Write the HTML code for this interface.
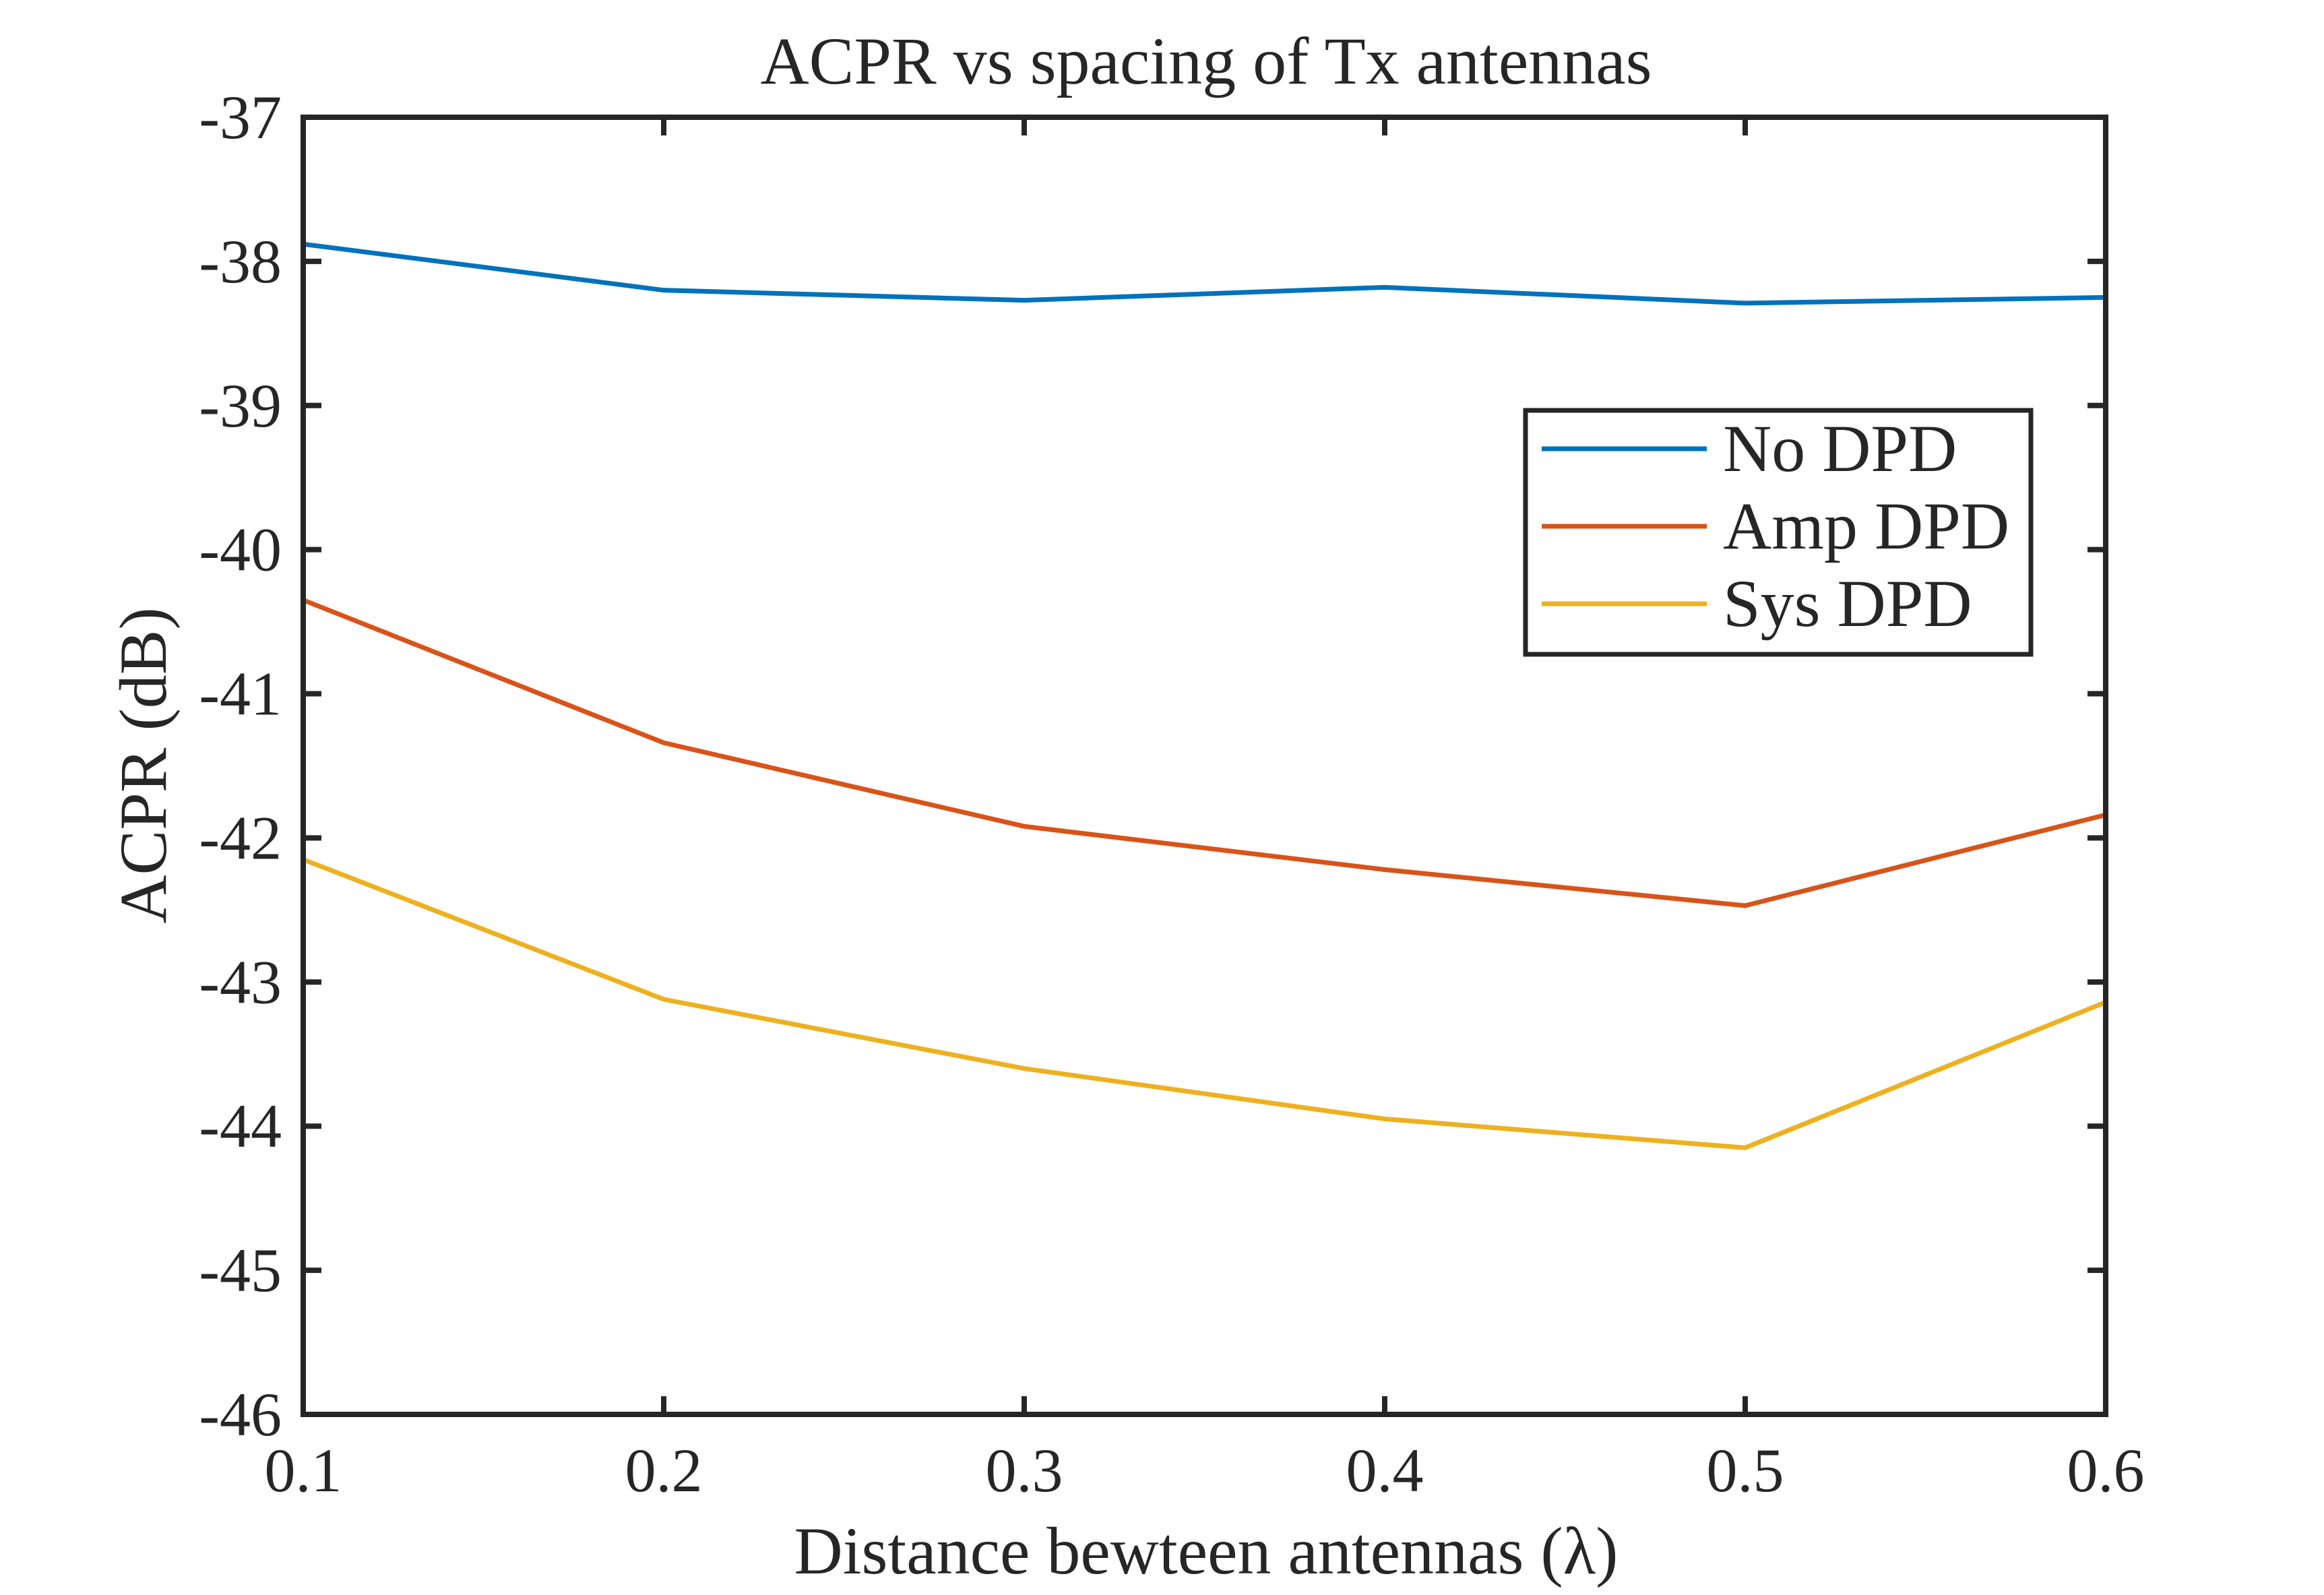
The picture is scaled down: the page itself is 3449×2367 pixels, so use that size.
<!DOCTYPE html>
<html><head><meta charset="utf-8"><style>
html,body{margin:0;padding:0;background:#fff}
svg text{font-family:"Liberation Serif","DejaVu Serif",serif;fill:#262626}
</style></head><body>
<svg id="chart" width="3449" height="2362" viewBox="0 0 3449 2362" xmlns="http://www.w3.org/2000/svg">
<rect width="3449" height="2362" fill="#fff"/>
<g id="plot"></g>
</svg>
<script>
const xValues=[0.1,0.2,0.3,0.4,0.5,0.6];
const noDPD=[-37.88,-38.2,-38.27,-38.18,-38.29,-38.25];
const ampDPD=[-40.35,-41.34,-41.92,-42.22,-42.47,-41.84];
const sysDPD=[-42.15,-43.12,-43.6,-43.95,-44.15,-43.14];
const xTicks=[0.1,0.2,0.3,0.4,0.5,0.6];
const xTickLabels=["0.1","0.2","0.3","0.4","0.5","0.6"];
const yTicks=[-46,-45,-44,-43,-42,-41,-40,-39,-38,-37];
const yTickLabels=["-46","-45","-44","-43","-42","-41","-40","-39","-38","-37"];
const seriesNames=["No DPD","Amp DPD","Sys DPD"];

const L=450,R=3125,T=174,B=2099;
const xMin=0.1,xMax=0.6,yMin=-46,yMax=-37;
const sx=v=>L+(v-xMin)/(xMax-xMin)*(R-L);
const sy=v=>B-(v-yMin)/(yMax-yMin)*(B-T);
const NS="http://www.w3.org/2000/svg";
const g=document.getElementById('plot');
function mk(tag,attrs,parent){const e=document.createElementNS(NS,tag);for(const k in attrs)e.setAttribute(k,attrs[k]);(parent||g).appendChild(e);return e;}

const colors=["#0072BD","#D95319","#EDB120"];
const data=[noDPD,ampDPD,sysDPD];
data.forEach((s,i)=>{
  const p=mk('polyline',{points:s.map((v,j)=>sx(xValues[j])+','+sy(v)).join(' '),fill:'none',stroke:colors[i],'stroke-width':7,'stroke-linejoin':'round'});
  
  
});

const box=mk('rect',{x:L,y:T,width:R-L,height:B-T,fill:'none',stroke:'#262626','stroke-width':8});



xTicks.forEach((v,i)=>{
  const x=sx(v);
  const t1=mk('line',{x1:x,y1:B,x2:x,y2:B-27,stroke:'#262626','stroke-width':8});
  
  
  const t2=mk('line',{x1:x,y1:T,x2:x,y2:T+27,stroke:'#262626','stroke-width':8});
  
  
  const tx=mk('text',{x:x,y:2213,'font-size':92,'text-anchor':'middle'});
  tx.textContent=xTickLabels[i];
  
  
});
yTicks.forEach((v,i)=>{
  const y=sy(v);
  const t1=mk('line',{x1:L,y1:y,x2:L+27,y2:y,stroke:'#262626','stroke-width':8});
  
  
  const t2=mk('line',{x1:R,y1:y,x2:R-27,y2:y,stroke:'#262626','stroke-width':8});
  
  
  const tx=mk('text',{x:418,y:y+31,'font-size':92,'text-anchor':'end'});
  tx.textContent=yTickLabels[i];
  
  
});

const title=mk('text',{x:1790,y:124,'font-size':100,'text-anchor':'middle'});
title.textContent='ACPR vs spacing of Tx antennas';



const xl=mk('text',{x:1790,y:2335,'font-size':100,'text-anchor':'middle'});
xl.textContent='Distance bewteen antennas (λ)';



const yl=mk('text',{x:0,y:0,'font-size':100,'text-anchor':'middle',transform:'translate(246,1136) rotate(-90)'});
yl.textContent='ACPR (dB)';



const lg=mk('g',{});


mk('rect',{x:2264,y:609,width:750,height:362,fill:'#fff',stroke:'#262626','stroke-width':7},lg);
const ly=[666,781,896];
seriesNames.forEach((n,i)=>{
  const e=mk('g',{},lg);
  
  
  mk('line',{x1:2288,y1:ly[i],x2:2533,y2:ly[i],stroke:colors[i],'stroke-width':7},e);
  const t=mk('text',{x:2557,y:ly[i]+33,'font-size':100},e);
  t.textContent=n;
});
</script>
</body></html>
